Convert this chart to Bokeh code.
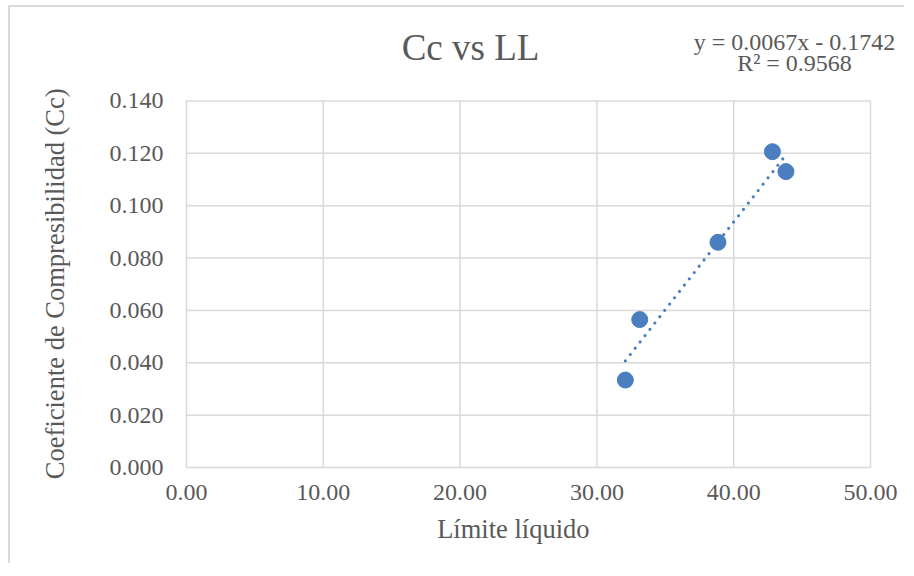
from bokeh.plotting import figure
from bokeh.models import Label, Range1d, FixedTicker, NumeralTickFormatter, ColumnDataSource
from bokeh.embed import file_html
from bokeh.resources import INLINE

# Data
ll = [32.08, 33.13, 38.85, 42.83, 43.82]
cc = [0.0334, 0.0565, 0.0860, 0.1206, 0.1130]
slope = 0.0067
intercept = -0.1742
x_ticks = [0, 10, 20, 30, 40, 50]
y_ticks = [0.0, 0.02, 0.04, 0.06, 0.08, 0.10, 0.12, 0.14]
title_text = "Cc vs LL"
eq_text = "y = 0.0067x - 0.1742"
r2_text = "R² = 0.9568"
x_label = "Límite líquido"
y_label = "Coeficiente de Compresibilidad (Cc)"

FONT = "Liberation Serif"
GREY = "#595959"
GRID = "#d9d9d9"
BLUE = "#4a7ebf"
NBSP = "\u00a0"

# The drawing frame is extended up and right so that the chart title and the
# trendline equation (which sit above / beside the plot box) are not clipped.
X_VIEW_END = 50 * 720 / 684
Y_VIEW_END = 0.14 * 447 / 366.6

p = figure(width=896, height=558, output_backend="svg", toolbar_location=None,
           x_range=Range1d(0, X_VIEW_END), y_range=Range1d(0, Y_VIEW_END),
           min_border_left=176, min_border_right=0, min_border_top=13, min_border_bottom=98)
p.styles = {"margin-left": "8px", "margin-top": "5px",
            "border-left": "2px solid #d9d9d9", "border-top": "2px solid #d9d9d9"}
p.outline_line_color = None
p.title.text = ""
p.title.standoff = 0
p.grid.visible = False

for ax in (p.xaxis[0], p.yaxis[0]):
    ax.axis_line_color = GRID
    ax.axis_line_width = 1.5
    ax.major_tick_line_color = None
    ax.minor_tick_line_color = None
    ax.major_label_text_font = FONT
    ax.major_label_text_font_size = "24px"
    ax.major_label_text_color = GREY
    ax.axis_label_text_font = FONT
    ax.axis_label_text_font_size = "26.5px"
    ax.axis_label_text_font_style = "normal"
    ax.axis_label_text_color = GREY

p.xaxis.bounds = (x_ticks[0], x_ticks[-1])
p.yaxis.bounds = (y_ticks[0], y_ticks[-1])
p.xaxis.ticker = FixedTicker(ticks=x_ticks)
p.yaxis.ticker = FixedTicker(ticks=y_ticks)
p.xaxis.formatter = NumeralTickFormatter(format="0.00")
p.yaxis.formatter = NumeralTickFormatter(format="0.000")
# axis titles are centred on the (extended) frame; trailing no-break spaces
# move the visible text back to the centre of the plot box
p.xaxis.axis_label = x_label + NBSP * 10
p.yaxis.axis_label = y_label + NBSP * 12
p.xaxis.major_label_standoff = 11
p.yaxis.major_label_standoff = 17
p.xaxis.axis_label_standoff = 11
p.yaxis.axis_label_standoff = 37

# grid lines limited to the plot box
gx = x_ticks[1:]
gy = y_ticks[1:]
p.segment(x0=gx, y0=[y_ticks[0]] * len(gx), x1=gx, y1=[y_ticks[-1]] * len(gx),
          line_color=GRID, line_width=1.5)
p.segment(x0=[x_ticks[0]] * len(gy), y0=gy, x1=[x_ticks[-1]] * len(gy), y1=gy,
          line_color=GRID, line_width=1.5)

# trendline (Excel linear trendline, coefficients as displayed)
tx = [min(ll), max(ll)]
ty = [slope * v + intercept for v in tx]
p.line(tx, ty, line_color=BLUE, line_width=3.2, line_dash="0 8", line_cap="round")

src = ColumnDataSource(dict(x=ll, y=cc))
p.scatter("x", "y", source=src, size=16, fill_color=BLUE, line_color=BLUE)

p.add_layout(Label(x=458, y=38, x_units="canvas", y_units="canvas", text=title_text,
                   text_font=FONT, text_font_size="37px", text_color=GREY,
                   text_align="center", text_baseline="alphabetic"))
p.add_layout(Label(x=782, y=32, x_units="canvas", y_units="canvas", text=eq_text,
                   text_font=FONT, text_font_size="24px", text_color=GREY,
                   text_align="center", text_baseline="alphabetic"))
p.add_layout(Label(x=782, y=53, x_units="canvas", y_units="canvas", text=r2_text,
                   text_font=FONT, text_font_size="24px", text_color=GREY,
                   text_align="center", text_baseline="alphabetic"))

open("out.html", "w").write(file_html(p, INLINE))
